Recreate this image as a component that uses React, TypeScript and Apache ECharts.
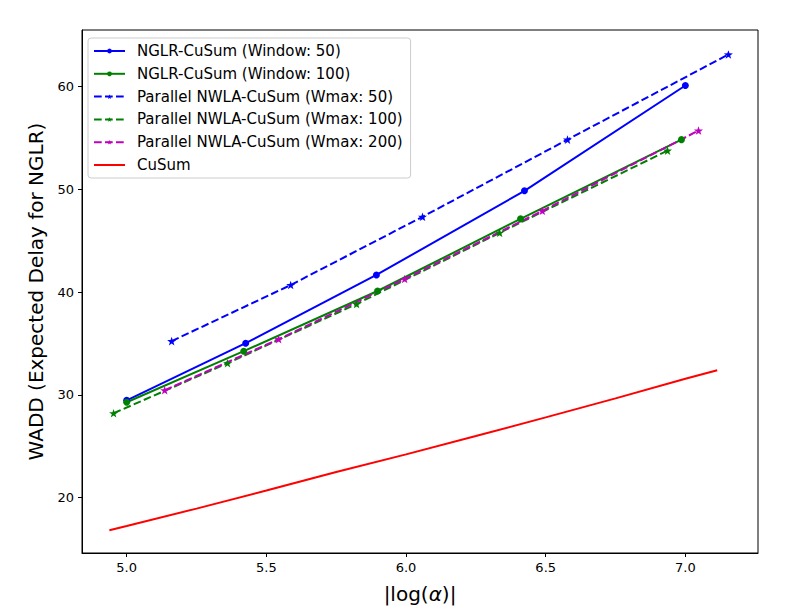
import React, { useEffect, useRef } from "react";
import * as echarts from "echarts";

const nglr50X = [5.0, 5.426, 5.894, 6.424, 7.0];
const nglr50Y = [29.46, 35.02, 41.66, 49.85, 60.1];
const nglr100X = [5.0, 5.419, 5.898, 6.41, 6.986];
const nglr100Y = [29.27, 34.24, 40.1, 47.12, 54.83];
const nwla50X = [5.161, 5.587, 6.059, 6.578, 7.154];
const nwla50Y = [35.22, 40.68, 47.32, 54.83, 63.12];
const nwla100X = [4.953, 5.361, 5.823, 6.335, 6.936];
const nwla100Y = [28.2, 33.07, 38.83, 45.76, 53.76];
const nwla200X = [5.136, 5.544, 5.995, 6.488, 7.047];
const nwla200Y = [30.44, 35.41, 41.27, 47.9, 55.71];
const cusumX = [4.938, 5.0, 5.25, 5.5, 5.75, 6.0, 6.25, 6.5, 6.75, 7.0, 7.114];
const cusumY = [16.81, 17.22, 18.92, 20.68, 22.48, 24.2, 25.98, 27.8, 29.65, 31.55, 32.39];

const xTicks = [5.0, 5.5, 6.0, 6.5, 7.0];
const yTicks = [20, 30, 40, 50, 60];

const seriesNames = [
  "NGLR-CuSum (Window: 50)",
  "NGLR-CuSum (Window: 100)",
  "Parallel NWLA-CuSum (Wmax: 50)",
  "Parallel NWLA-CuSum (Wmax: 100)",
  "Parallel NWLA-CuSum (Wmax: 200)",
  "CuSum",
];

const STAR =
  "path://M0,-10 L2.35,-3.24 L9.51,-3.09 L3.8,1.24 L5.88,8.09 L0,4 L-5.88,8.09 L-3.8,1.24 L-9.51,-3.09 L-2.35,-3.24 Z";

const zip = (xs: number[], ys: number[]) => xs.map((x, i) => [x, ys[i]]);

export default function App() {
  const ref = useRef<HTMLDivElement>(null);
  useEffect(() => {
    if (!ref.current) return;
    const chart = echarts.init(ref.current, undefined, { renderer: "svg" });
    const font = "DejaVu Sans";
    const dash = [7.7, 3.3];
    const mk = (
      name: string,
      data: number[][],
      color: string,
      symbol: string,
      dashed: boolean,
      size: number
    ) => ({
      name,
      type: "line",
      data,
      color,
      symbol,
      symbolSize: size,
      symbolKeepAspect: true,
      showSymbol: symbol !== "none",
      itemStyle: { color },
      lineStyle: { color, width: 2, type: dashed ? dash : "solid" },
      emphasis: { disabled: true },
    });
    chart.setOption({
      animation: false,
      textStyle: { fontFamily: font },
      grid: {
        left: 82,
        top: 30,
        width: 676,
        height: 523,
        show: true,
        borderColor: "#000",
        borderWidth: 1,
        backgroundColor: "transparent",
      },
      legend: {
        orient: "vertical",
        left: 88,
        top: 38,
        padding: [5, 8, 5, 5],
        itemWidth: 31,
        itemHeight: 6,
        itemGap: 6.8,
        textStyle: {
          fontSize: 15,
          lineHeight: 16,
          color: "#000",
          fontFamily: font,
          padding: [0, 0, 0, 7],
        },
        backgroundColor: "rgba(255,255,255,0.8)",
        borderColor: "#cccccc",
        borderWidth: 1,
        borderRadius: 3,
        data: seriesNames.map((n, i) =>
          i === 5 ? { name: n, itemStyle: { opacity: 0 } } : n
        ),
      },
      xAxis: {
        type: "value",
        min: 4.84,
        max: 7.26,
        name: "{a||log(}{b|α}{a|)|}",
        nameLocation: "middle",
        nameGap: 31,
        nameTextStyle: {
          rich: {
            a: { fontSize: 20, fontFamily: font, color: "#000" },
            b: { fontSize: 20, fontFamily: font, fontStyle: "italic", color: "#000" },
          },
        },
        axisLine: { show: true, onZero: false, lineStyle: { color: "#000", width: 1 } },
        axisTick: { show: true, length: 4, customValues: xTicks, lineStyle: { color: "#000" } },
        axisLabel: {
          customValues: xTicks,
          formatter: (v: number) => v.toFixed(1),
          fontSize: 13,
          color: "#000",
          margin: 8,
          fontFamily: font,
        },
        splitLine: { show: false },
      },
      yAxis: {
        type: "value",
        min: 14.6,
        max: 65.5,
        name: "WADD (Expected Delay for NGLR)",
        nameLocation: "middle",
        nameGap: 36,
        nameTextStyle: { fontSize: 20, fontFamily: font, color: "#000" },
        axisLine: { show: true, onZero: false, lineStyle: { color: "#000", width: 1 } },
        axisTick: { show: true, length: 4, customValues: yTicks, lineStyle: { color: "#000" } },
        axisLabel: {
          customValues: yTicks,
          fontSize: 13,
          color: "#000",
          margin: 8,
          fontFamily: font,
        },
        splitLine: { show: false },
      },
      series: [
        mk(seriesNames[0], zip(nglr50X, nglr50Y), "#0000ff", "circle", false, 7),
        mk(seriesNames[1], zip(nglr100X, nglr100Y), "#008000", "circle", false, 7),
        mk(seriesNames[2], zip(nwla50X, nwla50Y), "#0000ff", STAR, true, 9),
        mk(seriesNames[3], zip(nwla100X, nwla100Y), "#008000", STAR, true, 9),
        mk(seriesNames[4], zip(nwla200X, nwla200Y), "#bf00bf", STAR, true, 9),
        mk(seriesNames[5], zip(cusumX, cusumY), "#ff0000", "none", false, 0),
      ],
    });
    return () => chart.dispose();
  }, []);
  return (
    <div
      ref={ref}
      style={{ position: "fixed", left: 0, top: 0, width: 798, height: 615, background: "#fff" }}
    />
  );
}
